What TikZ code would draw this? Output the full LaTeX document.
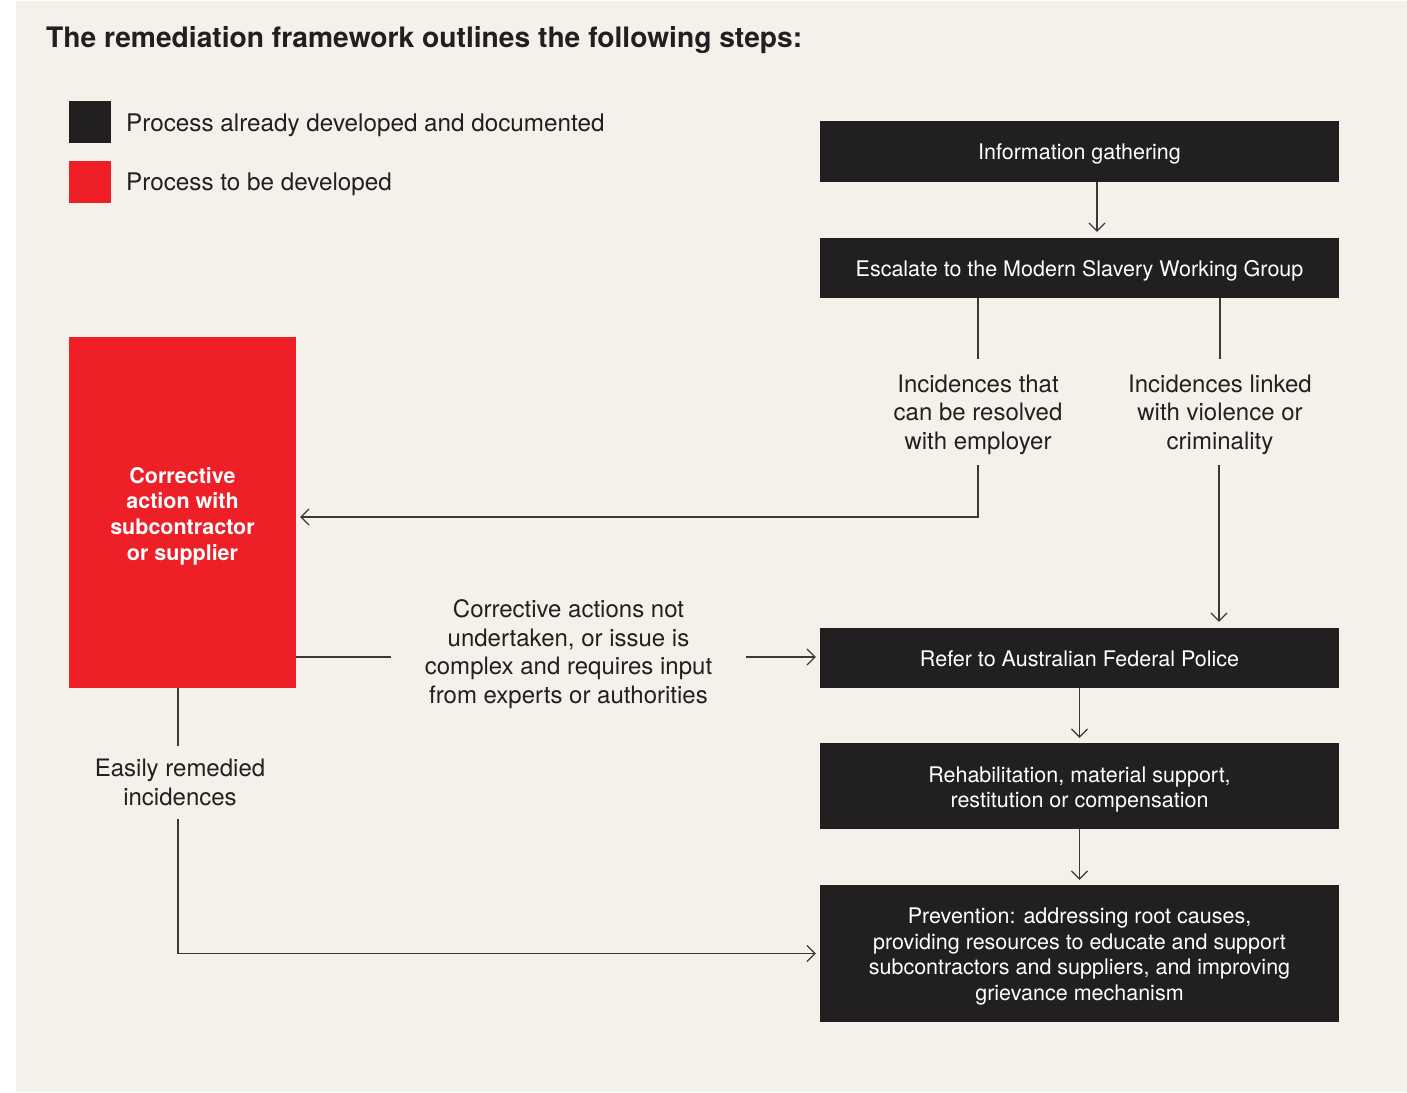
\documentclass[tikz,border=0pt]{standalone}
\usepackage{fontspec}
\setmainfont{TeX Gyre Heros}
\usetikzlibrary{arrows.meta}
\definecolor{bg}{HTML}{F4F1EA}
\definecolor{dark}{HTML}{221F20}
\definecolor{redbox}{HTML}{EE1F27}
\definecolor{ln}{HTML}{3A3838}
\definecolor{txt}{HTML}{231F20}
\newcommand{\topstrut}[1]{\rule{0pt}{#1}}
\begin{document}
\begin{tikzpicture}[x=1pt,y=-1pt,
  box/.style={fill=dark, text=white, minimum width=519pt, align=center, inner sep=0pt, font=\fontsize{21.5}{25.6}\selectfont},
  lbl/.style={align=center, text=txt, font=\fontsize{24}{28.5}\selectfont, inner xsep=0pt, inner ysep=13pt},
  plain/.style={draw=ln, line width=1.2pt},
  conn/.style={plain, -{Straight Barb[length=8pt,width=16pt,line width=1.2pt]}},
  swatch/.style={minimum width=42pt, minimum height=42pt, inner sep=0pt},
  legtxt/.style={anchor=west, inner sep=0pt, text=txt, font=\fontsize{24.25}{28}\selectfont}]
\useasboundingbox (0,0) rectangle (1407,1092);
\fill[bg] (16,1) rectangle (1407,1092);

% title and legend
\node[anchor=west, inner sep=0pt, text=txt, font=\fontsize{28.2}{32}\selectfont\bfseries] (title) at (46,40.5) {The remediation framework outlines the following steps:};
\node[swatch, fill=dark] (legdark) at (90,122) {};
\node[swatch, fill=redbox] (legred) at (90,182) {};
\node[legtxt] (legdarktxt) at (126,125) {Process already developed and documented};
\node[legtxt] (legredtxt) at (126,184) {Process to be developed};

% boxes
\node[box, minimum height=61pt] (info) at (1079.5,151.5) {\topstrut{21pt}Information gathering};
\node[box, minimum height=60pt] (esc) at (1079.5,268) {\topstrut{21pt}Escalate to the Modern Slavery Working Group};
\node[box, minimum height=60pt] (afp) at (1079.5,658) {\topstrut{18pt}Refer to Australian Federal Police};
\node[box, minimum height=86pt] (reh) at (1079.5,786) {\topstrut{23pt}Rehabilitation, material support,\\restitution or compensation};
\node[box, minimum height=137pt] (prev) at (1079.5,953.5) {\topstrut{22pt}Prevention: addressing root causes,\\providing resources to educate and support\\subcontractors and suppliers, and improving\\grievance mechanism};
\node[fill=redbox, text=white, minimum width=227pt, minimum height=351pt, inner sep=0pt, align=center, font=\fontsize{21.5}{25.7}\selectfont\bfseries] (red) at (182.5,512.5) {\topstrut{23pt}Corrective\\action with\\subcontractor\\or supplier};

% labels
\node[lbl] (inc1) at (978,414.5) {Incidences that\\can be resolved\\with employer};
\node[lbl] (inc2) at (1220,414.5) {Incidences linked\\with violence or\\criminality};
\node[lbl, inner xsep=34pt] (mid) at (568.5,654) {Corrective actions not\\undertaken, or issue is\\complex and requires input\\from experts or authorities};
\node[lbl] (easy) at (180,782.5) {Easily remedied\\incidences};

% connectors
\draw[conn, shorten >=6pt] ([xshift=17.5pt]info.south) -- ([xshift=17.5pt]esc.north);
\draw[plain] (esc.south -| inc1) -- ([yshift=2.5pt]inc1.north);
\draw[plain] (esc.south -| inc2) -- ([yshift=2.5pt]inc2.north);
\draw[conn, shorten >=4pt] ([yshift=2.5pt]inc1.south) |- ([yshift=-4.5pt]red.east);
\draw[conn, shorten >=6pt] ([xshift=-1pt,yshift=2.5pt]inc2.south) -- ([xshift=-1pt]inc2.south |- afp.north);
\draw[plain] ([yshift=1pt]red.east |- afp.west) -- ([yshift=1pt]mid.west |- afp.west);
\draw[conn, shorten >=4pt] ([yshift=1pt]mid.east |- afp.west) -- ([yshift=1pt]afp.west);
\draw[conn, shorten >=5pt] (afp.south) -- (reh.north);
\draw[conn, shorten >=5pt] (reh.south) -- (prev.north);
\draw[plain] ([xshift=-4.5pt]red.south) -- ([xshift=-4.5pt]red.south |- easy.north);
\draw[conn, shorten >=4pt] ([xshift=-2pt]easy.south) |- (prev.west);
\end{tikzpicture}
\end{document}
